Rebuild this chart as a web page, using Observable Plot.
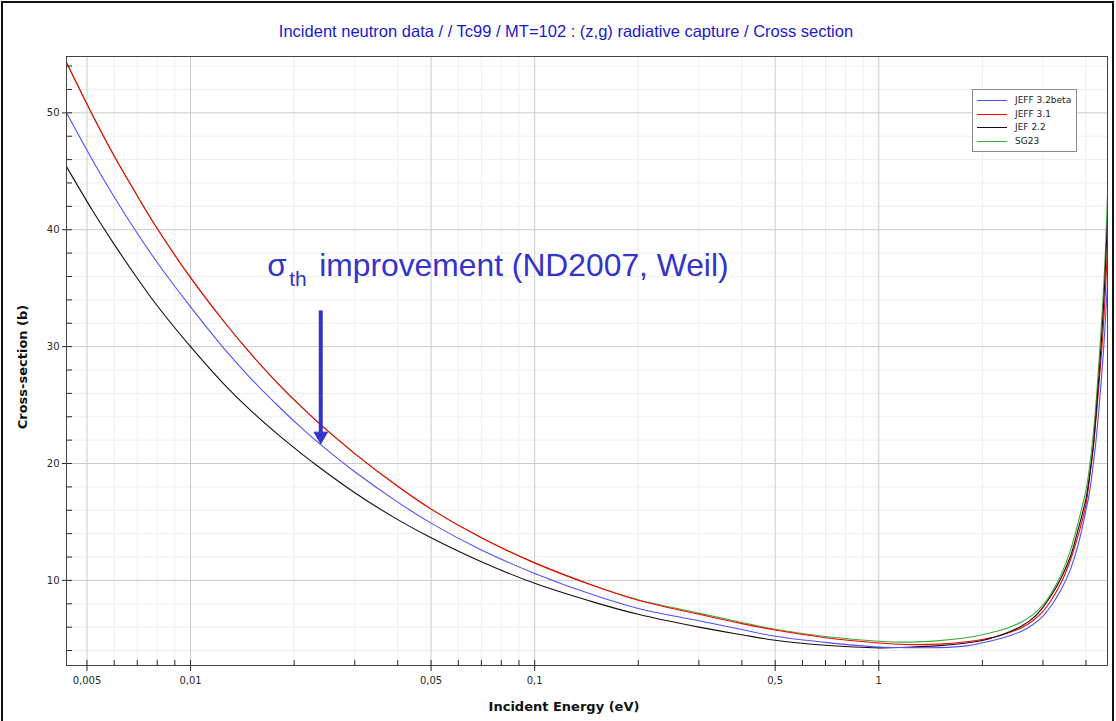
<!DOCTYPE html>
<html>
<head>
<meta charset="utf-8">
<script src="https://cdn.jsdelivr.net/npm/d3@7"></script>
<script src="https://cdn.jsdelivr.net/npm/@observablehq/plot@0.6"></script>
<style>
  html, body { margin: 0; padding: 0; background: #fff; }
  #wrap { position: relative; width: 1116px; height: 721px; overflow: hidden; background: #fff; }
  #border { position: absolute; left: 1px; top: 1px; width: 1113px; height: 740px; border: 2px solid #111; box-sizing: border-box; pointer-events: none; }
  #legend { position: absolute; left: 972px; top: 89px; width: 105px; height: 63px; box-sizing: border-box; border: 1px solid #8a8a8a; background: #fff; padding-top: 4px; font-family: "DejaVu Sans", sans-serif; font-size: 9px; color: #222; }
  #legend .row { position: relative; height: 13.5px; line-height: 13.5px; }
  #legend .sw { position: absolute; left: 4px; top: 6px; width: 30px; height: 1px; }
  #legend .lab { position: absolute; left: 42px; top: 0; white-space: nowrap; }
</style>
</head>
<body>
<div id="wrap">
  <div id="chart"></div>
  <div id="legend"></div>
  <div id="border"></div>
</div>
<script>
// ---- data ----
const energy = [0.00436, 0.0052, 0.006, 0.007, 0.008, 0.01, 0.0125, 0.015, 0.018, 0.021, 0.0236, 0.03, 0.04, 0.05, 0.07, 0.1, 0.15, 0.2, 0.3, 0.4, 0.5, 0.7, 1.0, 1.2, 1.5, 1.8, 2.0, 2.2, 2.4, 2.6, 2.8, 3.0, 3.2, 3.4, 3.6, 3.8, 4.0, 4.1, 4.2, 4.3, 4.4, 4.5, 4.56, 4.62];

const jeff32beta = [50.0, 45.9, 42.8, 39.7, 37.2, 33.4, 29.85, 27.25, 24.9, 23.05, 21.75, 19.3, 16.7, 14.9, 12.6, 10.6, 8.7, 7.6, 6.55, 5.8, 5.22, 4.7, 4.3, 4.25, 4.25, 4.4, 4.66, 4.95, 5.27, 5.65, 6.2, 6.95, 8.0, 9.3, 10.9, 13.1, 16.0, 17.6, 19.9, 22.6, 26.0, 29.7, 32.5, 35.4];
const jeff31 = [54.3, 49.75, 46.3, 42.9, 40.1, 35.9, 32.15, 29.35, 26.8, 24.85, 23.45, 20.85, 18.05, 16.1, 13.65, 11.5, 9.5, 8.3, 7.1, 6.3, 5.75, 5.1, 4.65, 4.52, 4.55, 4.75, 4.95, 5.2, 5.55, 5.95, 6.55, 7.35, 8.5, 9.9, 11.7, 13.9, 16.5, 18.8, 21.3, 24.5, 28.0, 32.0, 35.0, 38.5];
const jef22 = [45.4, 41.6, 38.75, 35.85, 33.5, 30.0, 26.8, 24.5, 22.45, 20.85, 19.7, 17.5, 15.2, 13.65, 11.6, 9.75, 8.1, 7.1, 6.0, 5.35, 4.88, 4.45, 4.23, 4.28, 4.42, 4.65, 4.86, 5.2, 5.6, 6.1, 6.75, 7.7, 8.9, 10.3, 12.0, 14.4, 17.0, 19.0, 21.5, 25.0, 29.0, 33.5, 37.0, 40.9];
const sg23 = [54.3, 49.75, 46.3, 42.9, 40.1, 35.9, 32.15, 29.35, 26.8, 24.85, 23.45, 20.85, 18.05, 16.1, 13.65, 11.5, 9.5, 8.35, 7.2, 6.4, 5.82, 5.2, 4.8, 4.72, 4.85, 5.1, 5.35, 5.65, 6.0, 6.45, 7.05, 7.9, 9.1, 10.6, 12.5, 15.0, 17.7, 19.8, 22.5, 26.0, 30.3, 35.0, 38.5, 43.1];

const seriesNames = ["JEFF 3.2beta", "JEFF 3.1", "JEF 2.2", "SG23"];
const seriesValues = [jeff32beta, jeff31, jef22, sg23];
const seriesColors = ["#4f4fff", "#ff0000", "#1c0c0c", "#3aaa3a"];
const drawOrder = ["SG23", "JEFF 3.1", "JEF 2.2", "JEFF 3.2beta"];

const xMajorTicks = [0.005, 0.01, 0.05, 0.1, 0.5, 1];
const xTickLabels = ["0,005", "0,01", "0,05", "0,1", "0,5", "1"];
const xMinorTicks = [0.006, 0.007, 0.008, 0.009, 0.02, 0.03, 0.04, 0.06, 0.07, 0.08, 0.09, 0.2, 0.3, 0.4, 0.6, 0.7, 0.8, 0.9, 2, 3, 4];
const yMajorTicks = [10, 20, 30, 40, 50];
const yMinorTicks = [4, 6, 8, 12, 14, 16, 18, 22, 24, 26, 28, 32, 34, 36, 38, 42, 44, 46, 48, 52, 54];

const titleText = "Incident neutron data / / Tc99 / MT=102 : (z,g) radiative capture / Cross section";
const xLabel = "Incident Energy (eV)";
const yLabel = "Cross-section (b)";

// annotation (data coordinates)
const noteEnergy = [0.0167];
const noteSigma = [36.9];
const noteParts = ["σ", "th", "improvement (ND2007, Weil)"];
const arrowEnergy = [0.0239];
const arrowTop = [33.1];
const arrowTip = [22.35];

// ---- build table ----
const rows = [];
seriesNames.forEach((name, i) => {
  energy.forEach((e, j) => rows.push({series: name, energy: e, sigma: seriesValues[i][j]}));
});
const colorOf = Object.fromEntries(seriesNames.map((n, i) => [n, seriesColors[i]]));
const xLabelRows = xMajorTicks.map((v, i) => ({v, label: xTickLabels[i]}));

const noteRow = [{e: noteEnergy[0], s: noteSigma[0]}];
const arrowRow = [{e: arrowEnergy[0], s1: arrowTop[0], s2: arrowTip[0]}];
const blue = "#3434c8";

const W = 1116, H = 721, mT = 56, mL = 66, mR = 9, mB = 56;
const frameW = W - mL - mR, frameH = H - mT - mB;

const plot = Plot.plot({
  width: W,
  height: H,
  marginTop: mT,
  marginLeft: mL,
  marginRight: mR,
  marginBottom: mB,
  style: {fontFamily: "'DejaVu Sans', sans-serif", fontSize: "10px", color: "#2a2a2a", background: "transparent"},
  x: {type: "log", domain: [0.00436, 4.62]},
  y: {domain: [2.72, 54.82]},
  marks: [
    Plot.ruleX(xMinorTicks, {stroke: "#eeeeee"}),
    Plot.ruleY(yMinorTicks, {stroke: "#eeeeee"}),
    Plot.ruleX(xMajorTicks, {stroke: "#cccccc"}),
    Plot.ruleY(yMajorTicks, {stroke: "#cccccc"}),
    ...drawOrder.map(name => Plot.line(rows.filter(d => d.series === name), {
      x: "energy", y: "sigma", stroke: colorOf[name], strokeWidth: 1.1, curve: "catmull-rom"
    })),
    // inner tick marks
    Plot.ruleX([...xMajorTicks, ...xMinorTicks], {stroke: "#2a2a2a", insetTop: frameH - 5}),
    Plot.ruleY([...yMajorTicks, ...yMinorTicks], {stroke: "#2a2a2a", insetRight: frameW - 6}),
    Plot.frame({stroke: "#444"}),
    // outer major ticks
    Plot.axisX({ticks: xMajorTicks, tickSize: 6, tickFormat: () => "", label: null}),
    Plot.axisY({ticks: yMajorTicks, tickSize: 4, tickPadding: 3, label: null}),
    Plot.text(xLabelRows, {x: "v", text: "label", frameAnchor: "bottom", lineAnchor: "middle", dy: 15, fill: "#2a2a2a"}),
    // titles
    Plot.text([titleText], {text: d => d, frameAnchor: "top", lineAnchor: "middle", dy: -25, dx: -21, fontFamily: "'Liberation Sans', Arial, sans-serif", fontSize: 16.5, fill: "#1a1acc"}),
    Plot.text([xLabel], {text: d => d, frameAnchor: "bottom", lineAnchor: "middle", dy: 41, dx: -23, fontFamily: "'DejaVu Sans', sans-serif", fontWeight: "bold", fontSize: 13, fill: "#111"}),
    Plot.text([yLabel], {text: d => d, frameAnchor: "left", textAnchor: "middle", lineAnchor: "middle", dx: -44, dy: 6, rotate: -90, fontFamily: "'DejaVu Sans', sans-serif", fontWeight: "bold", fontSize: 13, fill: "#111"}),
    // annotation
    Plot.link(arrowRow, {x1: "e", x2: "e", y1: "s1", y2: "s2", stroke: blue, strokeWidth: 4}),
    Plot.dot(arrowRow, {x: "e", y: "s2", symbol: "triangle", rotate: 180, r: 5, fill: blue, stroke: blue, strokeWidth: 1}),
    Plot.text(noteRow, {x: "e", y: "s", text: () => noteParts[0], textAnchor: "start", fontFamily: "'Liberation Sans', Arial, sans-serif", fontSize: 31.5, fill: blue}),
    Plot.text(noteRow, {x: "e", y: "s", text: () => noteParts[1], textAnchor: "start", dx: 22, dy: 13, fontFamily: "'Liberation Sans', Arial, sans-serif", fontSize: 21, fill: blue}),
    Plot.text(noteRow, {x: "e", y: "s", text: () => noteParts[2], textAnchor: "start", dx: 52, fontFamily: "'Liberation Sans', Arial, sans-serif", fontSize: 31.8, fill: blue})
  ]
});
document.getElementById("chart").appendChild(plot);

// legend
const legend = d3.select("#legend");
seriesNames.forEach((name, i) => {
  const row = legend.append("div").attr("class", "row");
  row.append("span").attr("class", "sw").style("background", seriesColors[i]);
  row.append("span").attr("class", "lab").text(name);
});
</script>
</body>
</html>
